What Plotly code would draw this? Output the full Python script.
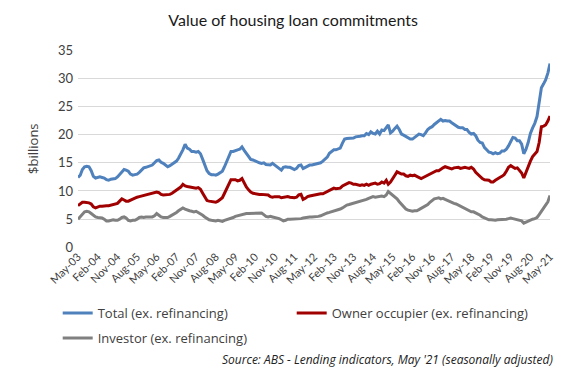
import pandas as pd
import plotly.graph_objects as go

months = pd.date_range("2003-05-01", "2021-05-01", freq="MS")

tick_labels = ["May-03", "Feb-04", "Nov-04", "Aug-05", "May-06", "Feb-07", "Nov-07",
               "Aug-08", "May-09", "Feb-10", "Nov-10", "Aug-11", "May-12", "Feb-13",
               "Nov-13", "Aug-14", "May-15", "Feb-16", "Nov-16", "Aug-17", "May-18",
               "Feb-19", "Nov-19", "Aug-20", "May-21"]

total = [12.4, 12.8, 13.8, 14.3, 14.4, 14.3, 13.6, 12.6,
         12.3, 12.4, 12.5, 12.4, 12.3, 12.0, 11.9, 12.1, 12.1, 12.2, 12.5, 12.9,
         13.4, 13.8, 13.7, 13.5, 13.0, 12.8, 12.9, 13.0, 13.3, 13.7, 14.1, 14.2,
         14.3, 14.4, 14.6, 15.0, 15.4, 15.5, 15.1, 14.9, 14.5, 14.3, 14.5, 14.8,
         15.1, 15.3, 15.8, 16.5, 17.3, 18.3, 17.6, 17.4, 17.0, 17.0, 16.9, 17.0,
         16.6, 15.6, 14.5, 13.6, 13.1, 12.9, 12.9, 12.8, 13.0, 13.3, 13.5, 14.3,
         15.2, 16.3, 17.0, 17.0, 17.2, 17.3, 17.4, 17.8, 17.2, 16.6, 16.0, 15.6,
         15.5, 15.3, 15.2, 15.0, 14.9, 15.0, 14.7, 14.7, 14.6, 14.9, 14.6, 14.3,
         14.0, 13.7, 14.2, 14.3, 14.2, 14.2, 14.0, 13.8, 14.0, 14.5, 14.6, 14.0,
         14.2, 14.4, 14.6, 14.6, 14.7, 14.9, 15.0, 15.0, 15.3, 15.6, 16.0, 16.7,
         17.0, 17.3, 17.3, 17.4, 17.6, 18.5, 19.2, 19.3, 19.3, 19.3, 19.4, 19.6,
         19.6, 19.7, 19.8, 19.8, 20.2, 20.0, 20.5, 20.2, 20.1, 20.6, 20.1, 20.8,
         20.7, 21.3, 21.7, 20.3, 20.6, 21.1, 21.5, 20.9, 20.1, 19.9, 19.7, 19.4,
         19.2, 19.2, 19.5, 19.7, 20.1, 20.0, 19.8, 20.3, 20.9, 21.2, 21.4, 21.8,
         22.1, 22.5, 22.7, 22.4, 22.5, 22.4, 22.4, 22.1, 21.8, 21.6, 21.3, 21.2,
         21.2, 20.9, 20.9, 20.4, 20.1, 20.2, 19.8, 19.0, 18.6, 18.5, 17.7, 17.3,
         16.9, 16.8, 16.6, 16.8, 16.6, 16.7, 17.1, 17.1, 17.4, 18.0, 18.8, 19.5,
         19.4, 18.9, 18.9, 18.3, 16.6, 17.4, 18.6, 20.2, 21.2, 22.0, 23.2, 25.5,
         28.3, 29.0, 29.7, 30.9, 32.6]

owner_occupier = [7.4, 7.7, 8.0, 8.0, 8.0, 7.9, 7.7, 7.2,
                  7.0, 7.2, 7.3, 7.3, 7.4, 7.4, 7.4, 7.5, 7.6, 7.6, 7.8, 8.2,
                  8.6, 8.4, 8.2, 8.2, 8.4, 8.5, 8.7, 8.9, 9.0, 9.1, 9.2, 9.3,
                  9.3, 9.4, 9.5, 9.6, 9.8, 9.7, 9.4, 9.3, 9.3, 9.3, 9.4, 9.6,
                  9.9, 10.1, 10.4, 10.7, 11.2, 10.9, 10.8, 10.7, 10.6, 10.6, 10.5, 10.6,
                  10.3, 9.6, 9.0, 8.3, 8.2, 8.1, 8.0, 8.0, 8.2, 8.5, 8.8, 9.6,
                  10.5, 11.2, 12.0, 12.0, 12.0, 11.8, 11.9, 12.2, 11.4, 10.7, 10.2, 9.8,
                  9.6, 9.5, 9.4, 9.4, 9.4, 9.4, 9.4, 9.3, 9.0, 8.9, 9.0, 9.0,
                  9.0, 8.8, 8.9, 9.0, 9.0, 8.9, 8.8, 8.8, 8.9, 9.3, 9.4, 8.5,
                  8.7, 9.0, 9.1, 9.2, 9.3, 9.3, 9.4, 9.5, 9.5, 9.7, 10.0, 10.2,
                  10.4, 10.5, 10.4, 10.5, 10.5, 10.9, 11.1, 11.3, 11.5, 11.4, 11.2, 11.2,
                  11.1, 11.0, 11.1, 11.0, 11.2, 11.0, 11.2, 11.3, 11.4, 11.2, 11.3, 11.6,
                  11.4, 11.9, 11.2, 11.6, 12.3, 12.8, 13.4, 13.2, 13.0, 13.0, 12.7, 12.6,
                  12.8, 12.7, 12.8, 12.6, 12.4, 12.2, 12.4, 12.6, 12.8, 13.0, 13.3, 13.5,
                  13.6, 13.6, 13.9, 14.1, 14.3, 14.2, 14.1, 13.9, 14.1, 14.2, 14.2, 14.0,
                  14.1, 14.2, 14.1, 14.0, 14.2, 13.9, 13.3, 12.9, 12.5, 12.2, 12.0, 11.9,
                  11.9, 11.6, 11.6, 11.9, 12.2, 12.4, 12.6, 12.9, 13.5, 14.2, 14.5, 14.3,
                  14.0, 14.1, 13.7, 13.2, 12.3, 13.3, 14.5, 15.3, 16.1, 16.5, 17.0, 18.6,
                  21.4, 21.5, 21.7, 22.4, 23.3]

investor = [5.0, 5.4, 5.9, 6.3, 6.4, 6.3, 6.0, 5.7,
            5.4, 5.3, 5.3, 5.2, 5.0, 4.7, 4.7, 4.8, 4.9, 4.8, 4.8, 5.0,
            5.3, 5.4, 5.2, 4.8, 4.7, 4.8, 4.8, 5.0, 5.3, 5.4, 5.3, 5.4,
            5.4, 5.3, 5.4, 5.6, 6.0, 5.7, 5.4, 5.3, 5.3, 5.3, 5.5, 5.7,
            6.0, 6.2, 6.5, 6.7, 7.0, 6.8, 6.6, 6.5, 6.4, 6.3, 6.4, 6.2,
            5.9, 5.7, 5.4, 5.1, 4.9, 4.8, 4.7, 4.7, 4.8, 4.7, 4.6, 4.8,
            4.9, 5.0, 5.2, 5.3, 5.5, 5.6, 5.7, 5.8, 6.0, 6.0, 6.0, 6.0,
            6.0, 6.0, 6.0, 6.0, 6.1, 5.8, 5.5, 5.4, 5.5, 5.4, 5.3, 5.3,
            5.1, 4.9, 4.7, 4.8, 5.0, 5.0, 5.0, 5.0, 5.1, 5.0, 5.1, 5.2,
            5.3, 5.3, 5.4, 5.4, 5.4, 5.4, 5.5, 5.6, 5.8, 6.0, 6.1, 6.2,
            6.3, 6.5, 6.6, 6.7, 6.8, 7.0, 7.3, 7.5, 7.6, 7.7, 7.9, 8.0,
            8.0, 8.1, 8.2, 8.3, 8.5, 8.7, 8.9, 9.0, 8.9, 9.0, 9.0, 9.1,
            9.0, 9.3, 9.9, 9.6, 9.2, 9.0, 8.6, 8.1, 7.6, 7.1, 6.8, 6.6,
            6.5, 6.4, 6.5, 6.5, 6.7, 6.9, 7.1, 7.3, 7.6, 8.0, 8.4, 8.6,
            8.7, 8.8, 8.6, 8.7, 8.5, 8.3, 8.2, 8.0, 7.8, 7.7, 7.5, 7.2,
            7.0, 6.8, 6.6, 6.4, 6.3, 6.3, 6.1, 6.0, 5.7, 5.4, 5.2, 5.0,
            4.9, 4.9, 4.8, 4.8, 4.9, 4.9, 5.0, 5.0, 5.0, 5.1, 5.2, 5.1,
            5.0, 5.0, 4.9, 4.7, 4.3, 4.5, 4.7, 4.9, 5.0, 5.1, 5.3, 5.8,
            6.4, 7.0, 7.6, 8.1, 9.2]

series_names = ["Total (ex. refinancing)", "Owner occupier (ex. refinancing)",
                "Investor (ex. refinancing)"]
series_colors = ["#4F81BD", "#A00000", "#808080"]
series_legends = ["legend", "legend2", "legend3"]

fig = go.Figure()
for name, vals, col, lg in zip(series_names, [total, owner_occupier, investor],
                               series_colors, series_legends):
    fig.add_trace(go.Scatter(x=months, y=vals, mode="lines", name=name, legend=lg,
                             line=dict(color=col, width=3)))

tickvals = list(months[::9])

legend_common = dict(orientation="h", xref="container", yref="container",
                     xanchor="left", yanchor="middle",
                     font=dict(family="Open Sans", size=13, color="#404040"),
                     itemwidth=30, bgcolor="rgba(0,0,0,0)")

fig.update_layout(
    width=577, height=381,
    margin=dict(l=78, r=27, t=50, b=132),
    paper_bgcolor="white", plot_bgcolor="white",
    title=dict(text="Value of housing loan commitments", x=0.508, xanchor="center",
               y=0.947, yanchor="middle",
               font=dict(family="Lato", size=16, color="#1a1a1a")),
    font=dict(family="Open Sans", color="#404040"),
    xaxis=dict(tickmode="array", tickvals=tickvals, ticktext=tick_labels,
               tickangle=-45, tickfont=dict(family="Lato", size=11, color="#404040"),
               showgrid=False, showline=False, zeroline=False,
               range=[months[0], months[-1]], ticks="", ticklen=0),
    yaxis=dict(range=[0, 35], dtick=5, showgrid=True, gridcolor="#D9D9D9", gridwidth=1,
               zeroline=False, showline=False, ticklabelstandoff=4,
               tickfont=dict(family="Lato", size=13, color="#404040"),
               title=dict(text="$billions", font=dict(family="Open Sans", size=13, color="#404040"),
                          standoff=16)),
    legend=dict(**legend_common, x=0.1, y=1 - 313 / 381),
    legend2=dict(**legend_common, x=0.1 + 234 / 577, y=1 - 313 / 381),
    legend3=dict(**legend_common, x=0.1, y=1 - 338 / 381),
    showlegend=True,
)

fig.add_annotation(text="<i>Source: ABS - Lending indicators, May '21 (seasonally adjusted)</i>",
                   xref="paper", yref="paper", x=1.01, y=-0.568, xanchor="right",
                   yanchor="middle", showarrow=False,
                   font=dict(family="Open Sans", size=12, color="#222222"))

fig.write_html("out.html", config={"displayModeBar": False},
               post_script="document.body.style.margin='0';")
